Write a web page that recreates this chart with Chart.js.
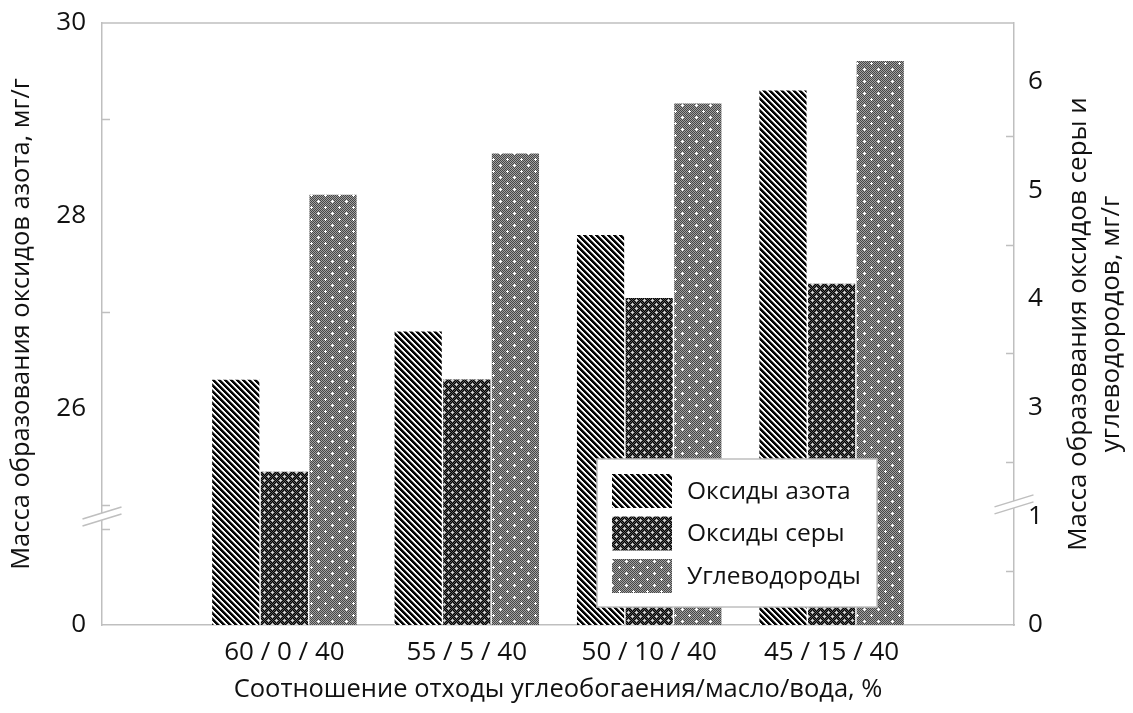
<!DOCTYPE html>
<html>
<head>
<meta charset="utf-8">
<script src="https://cdn.jsdelivr.net/npm/chart.js@4.4.1/dist/chart.umd.min.js"></script>
<style>
  html, body { margin: 0; padding: 0; background: #fff; }
  #wrap { width: 1133px; height: 713px; position: relative; }
</style>
</head>
<body>
<div id="wrap"><canvas id="c" width="1133" height="713"></canvas></div>
<script>
// ---- data ----
const categories = ['60 / 0 / 40', '55 / 5 / 40', '50 / 10 / 40', '45 / 15 / 40'];
const seriesNames = ['Оксиды азота', 'Оксиды серы', 'Углеводороды'];
const nitrogenOxides = [26.3, 26.8, 27.8, 29.3];   // left axis, мг/г
const sulfurOxides = [2.41, 3.26, 4.01, 4.14];     // right axis, мг/г
const hydrocarbons = [4.96, 5.34, 5.80, 6.19];     // right axis, мг/г
const leftTickLabels = [0, 26, 28, 30];
const leftMinorTicks = [1, 25, 27, 29];
const rightTickLabels = [0, 1, 3, 4, 5, 6];
const rightMinorTicks = [0.5, 2.5, 3.5, 4.5, 5.5];
const xTitle = 'Соотношение отходы углеобогаения/масло/вода, %';
const leftTitle = 'Масса образования оксидов азота, мг/г';
const rightTitle = ['Масса образования оксидов серы и', 'углеводородов, мг/г'];

// ---- broken value axes: values above `cut` are shifted down by `shift` ----
const axisSetup = {
  yN: { cut: 12, shift: 23.755, max: 30, breakAt: 24.88, labels: leftTickLabels, minor: leftMinorTicks },
  yR: { cut: 1.5, shift: 1.0, max: 6.54, breakAt: 2.11, labels: rightTickLabels, minor: rightMinorTicks }
};

class BrokenLinearScale extends Chart.LinearScale {
  _setup() { return axisSetup[this.id]; }
  _fwd(v) { const s = this._setup(); return v > s.cut ? v - s.shift : v; }
  determineDataLimits() { this.min = 0; this.max = this._fwd(this._setup().max); }
  buildTicks() { return this._setup().labels.map(v => ({ value: v })); }
  getPixelForValue(v) {
    if (v === null || v === undefined || isNaN(v)) return NaN;
    return this.getPixelForDecimal((this._fwd(v) - this._startValue) / this._valueRange);
  }
  getValueForPixel(px) {
    const s = this._setup();
    const w = this._startValue + this.getDecimalForPixel(px) * this._valueRange;
    return w > s.cut - s.shift ? w + s.shift : w;
  }
}
BrokenLinearScale.id = 'brokenLinear';
BrokenLinearScale.defaults = Chart.LinearScale.defaults;
Chart.register(BrokenLinearScale);

// ---- fill patterns ----
function makeTile(w, h, shade) {
  const c = document.createElement('canvas');
  c.width = w; c.height = h;
  const g = c.getContext('2d');
  const img = g.createImageData(w, h);
  for (let y = 0; y < h; y++) {
    for (let x = 0; x < w; x++) {
      const v = shade(x, y);
      const i = (y * w + x) * 4;
      img.data[i] = img.data[i + 1] = img.data[i + 2] = v;
      img.data[i + 3] = 255;
    }
  }
  g.putImageData(img, 0, 0);
  return c;
}
function inPlus(x, y, cx, cy, w, h) {
  const dx = Math.min(Math.abs(x - cx), w - Math.abs(x - cx));
  const dy = Math.min(Math.abs(y - cy), h - Math.abs(y - cy));
  return (dx === 0 && dy <= 1) || (dy === 0 && dx <= 1);
}
const ctx = document.getElementById('c').getContext('2d');
const stripeTile = makeTile(6, 6, (x, y) => [5, 5, 5, 130, 250, 250][((x - y) % 6 + 6) % 6]);
const darkTile = makeTile(8, 8, (x, y) => {
  if (inPlus(x, y, 4, 4, 8, 8) || inPlus(x, y, 0, 0, 8, 8)) return 210;
  return (x + y) % 2 === 0 ? 85 : 0;
});
const dotTile = makeTile(14, 12, (x, y) => {
  if (inPlus(x, y, 3, 3, 14, 12) || inPlus(x, y, 10, 9, 14, 12)) return 255;
  return (x + y) % 2 === 0 ? 70 : 160;
});
const fills = [
  ctx.createPattern(stripeTile, 'repeat'),
  ctx.createPattern(darkTile, 'repeat'),
  ctx.createPattern(dotTile, 'repeat')
];

// ---- look ----
const FONT = '"Open Sans", "Noto Sans", sans-serif';
const TEXT = '#111';
const AXIS = '#bfbfbf';
Chart.defaults.font.family = FONT;
Chart.defaults.color = TEXT;

const pad = arr => [null].concat(arr, [null]);
const noPad = s => { s.paddingTop = 0; s.paddingBottom = 0; s.paddingLeft = 0; s.paddingRight = 0; };

const decorPlugin = {
  id: 'decor',
  afterDraw(chart) {
    const c = chart.ctx;
    const a = chart.chartArea;
    const yN = chart.scales.yN, yR = chart.scales.yR;
    c.save();
    // top frame line
    c.strokeStyle = AXIS; c.lineWidth = 1.5;
    c.beginPath(); c.moveTo(a.left, a.top); c.lineTo(a.right, a.top); c.stroke();
    // inner minor tick marks
    axisSetup.yN.minor.forEach(v => {
      const y = Math.round(yN.getPixelForValue(v)) + 0.5;
      c.beginPath(); c.moveTo(a.left, y); c.lineTo(a.left + 8, y); c.stroke();
    });
    axisSetup.yR.minor.forEach(v => {
      const y = Math.round(yR.getPixelForValue(v)) + 0.5;
      c.beginPath(); c.moveTo(a.right - 8, y); c.lineTo(a.right, y); c.stroke();
    });
    // axis break marks
    const brk = (x, y) => {
      const hw = 19.5, rise = 6, gap = 3.5;
      c.fillStyle = '#fff';
      c.beginPath();
      c.moveTo(x - hw, y + rise - gap); c.lineTo(x + hw, y - rise - gap);
      c.lineTo(x + hw, y - rise + gap); c.lineTo(x - hw, y + rise + gap);
      c.closePath(); c.fill();
      c.strokeStyle = AXIS; c.lineWidth = 1.5;
      [-gap, gap].forEach(o => {
        c.beginPath(); c.moveTo(x - hw, y + rise + o); c.lineTo(x + hw, y - rise + o); c.stroke();
      });
    };
    brk(a.left, yN.getPixelForValue(axisSetup.yN.breakAt));
    brk(a.right, yR.getPixelForValue(axisSetup.yR.breakAt));

    // right axis title (reads bottom to top)
    c.fillStyle = TEXT;
    c.font = '26px ' + FONT;
    c.textAlign = 'center';
    c.textBaseline = 'alphabetic';
    const midY = (a.top + a.bottom) / 2;
    [1086, 1119].forEach((x, i) => {
      c.save(); c.translate(x, midY); c.rotate(-Math.PI / 2);
      c.fillText(rightTitle[i], 0, 0); c.restore();
    });

    // legend box
    const box = { x: 597, y: 459, w: 280, h: 148 };
    c.fillStyle = '#fff';
    c.fillRect(box.x, box.y, box.w, box.h);
    c.strokeStyle = AXIS; c.lineWidth = 1.5;
    c.strokeRect(box.x, box.y, box.w, box.h);
    c.textAlign = 'left';
    c.textBaseline = 'middle';
    chart.data.datasets.forEach((ds, i) => {
      const sy = 474 + i * 42.5;
      c.fillStyle = ds.backgroundColor;
      c.fillRect(612, sy, 60, 34);
      c.fillStyle = TEXT;
      c.font = '24.5px ' + FONT;
      c.fillText(ds.label, 687, sy + 18);
    });
    c.restore();
  }
};

new Chart(ctx, {
  type: 'bar',
  data: {
    labels: [''].concat(categories, ['']),
    datasets: [
      { label: seriesNames[0], data: pad(nitrogenOxides), yAxisID: 'yN', backgroundColor: fills[0] },
      { label: seriesNames[1], data: pad(sulfurOxides), yAxisID: 'yR', backgroundColor: fills[1] },
      { label: seriesNames[2], data: pad(hydrocarbons), yAxisID: 'yR', backgroundColor: fills[2] }
    ]
  },
  options: {
    responsive: false,
    animation: false,
    events: [],
    devicePixelRatio: 1,
    layout: { padding: { top: 23, left: 0, right: 0, bottom: 0 } },
    datasets: { bar: { categoryPercentage: 0.8, barPercentage: 0.97, borderWidth: 0 } },
    plugins: { legend: { display: false }, tooltip: { enabled: false } },
    scales: {
      x: {
        type: 'category',
        offset: false,
        grid: { display: false, drawTicks: false },
        border: { display: true, color: AXIS, width: 1.5 },
        ticks: { autoSkip: false, maxRotation: 0, padding: 12, font: { size: 26 }, color: TEXT },
        title: { display: true, text: xTitle, font: { size: 25.5 }, color: TEXT, padding: { top: 0, bottom: 8 } },
        afterFit: s => { noPad(s); s.height = 88; }
      },
      yN: {
        type: 'brokenLinear',
        position: 'left',
        grid: { display: false, drawTicks: false },
        border: { display: true, color: AXIS, width: 1.5 },
        ticks: { autoSkip: false, padding: 16, font: { size: 26 }, color: TEXT, callback: v => String(v) },
        title: { display: true, text: leftTitle, font: { size: 25.5 }, color: TEXT, padding: { top: 6, bottom: 0 } },
        afterFit: s => { noPad(s); s.width = 102; }
      },
      yR: {
        type: 'brokenLinear',
        position: 'right',
        grid: { display: false, drawTicks: false },
        border: { display: true, color: AXIS, width: 1.5 },
        ticks: { autoSkip: false, padding: 14, font: { size: 26 }, color: TEXT, callback: v => String(v) },
        afterFit: s => { noPad(s); s.width = 119; }
      }
    }
  },
  plugins: [decorPlugin]
});
</script>
</body>
</html>
